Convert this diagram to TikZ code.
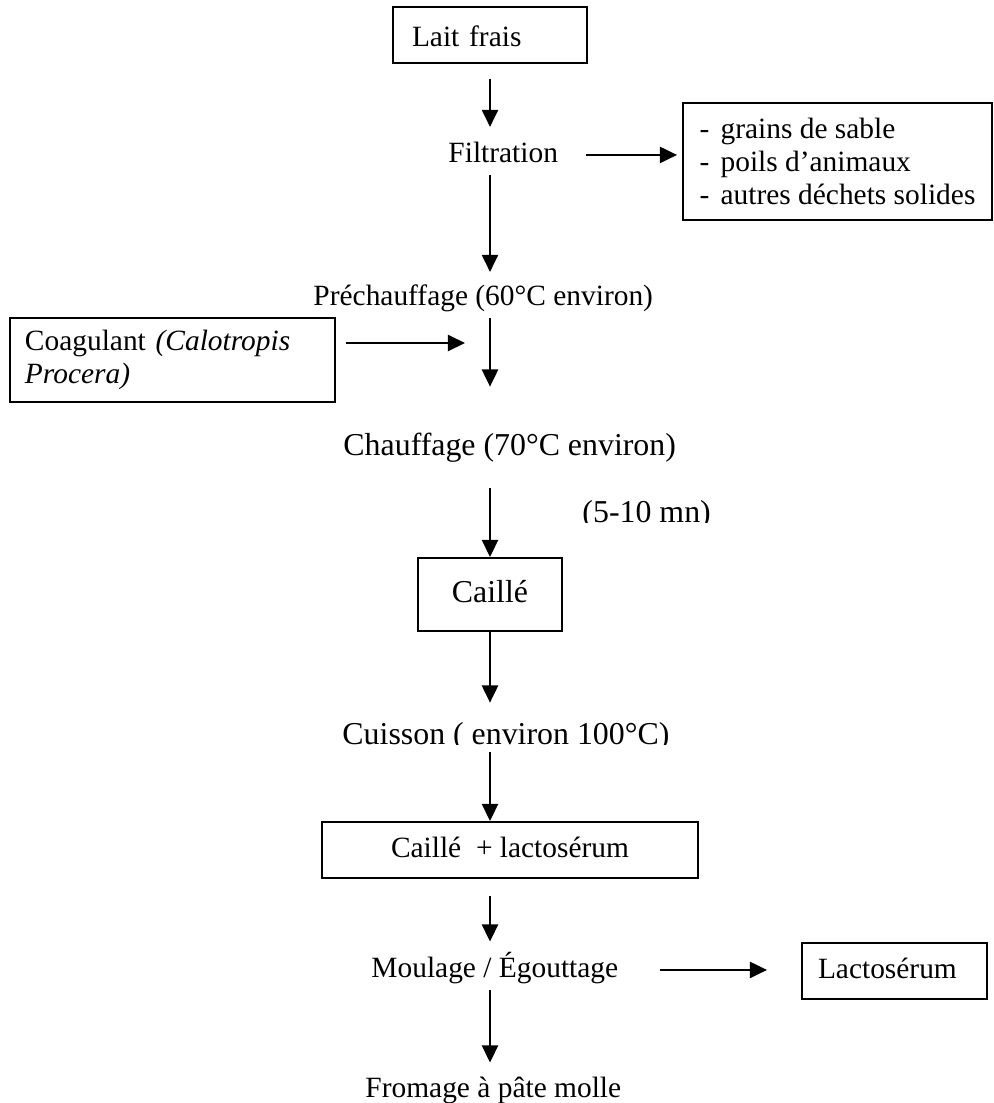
\documentclass[tikz,border=0pt]{standalone}
\usepackage{fontspec}
\setmainfont{Liberation Serif}
\usetikzlibrary{arrows.meta}
\newlength\pxu
\setlength\pxu{0.408pt}
\newcommand\smallfont{\fontsize{12}{13.5}\selectfont}
\newcommand\bigfont{\fontsize{13}{15}\selectfont}
\newcommand\tiret{\makebox[21\pxu][l]{-}}
\tikzset{
  stage/.style={inner sep=0pt,font=\smallfont,text height=8.4pt,text depth=2.64pt,anchor=base west},
  stagebig/.style={stage,font=\bigfont,text height=9.1pt,text depth=2.86pt},
  box/.style={draw,line width=.8pt,inner sep=0pt,font=\smallfont},
  onebox/.style={box,text height=8.4pt,text depth=2.64pt},
  flow/.style={-{Triangle[length=7pt,width=6.6pt]},line width=.8pt}
}

\begin{document}
\begin{tikzpicture}[x=0.408pt,y=-0.408pt]
  \useasboundingbox (0,0) rectangle (994,1103);
  \coordinate (axe) at (490,0);
  \node[onebox,text height=9.6pt,text depth=0pt,minimum width=194\pxu,minimum height=56\pxu,text width=156\pxu,align=left] (lait) at (490,35) {Lait frais};
  \node[stage] (filt) at (448,162) {Filtration};
  \node[box,minimum width=309\pxu,minimum height=117\pxu,align=left] (dechets) at (837.5,161.5) {\tiret grains de sable\\ \tiret poils d’animaux\\ \tiret autres déchets solides};
  \node[stage] (prech) at (313,305) {Préchauffage (60°C environ)};
  \node[box,minimum width=325\pxu,minimum height=84\pxu,text width=295\pxu,align=left] (coag) at (172.5,360) {Coagulant \textit{(Calotropis}\\ \textit{Procera)}};
  \coordinate (ajout) at (465,343);
  \node[stagebig] (chauf) at (343,455) {Chauffage (70°C environ)};
  \begin{scope}
    \clip (560,480) rectangle (730,522.5);
    \node[stagebig] (duree) at (582,522) {(5-10 mn)};
  \end{scope}
  \node[onebox,font=\bigfont,text height=9.1pt,text depth=2.86pt,minimum width=144\pxu,minimum height=73\pxu] (caille) at (490,594.5) {Caillé};
  \begin{scope}
    \clip (320,700) rectangle (700,744.5);
    \node[stagebig] (cuis) at (342,744) {Cuisson ( environ 100°C)};
  \end{scope}
  \node[onebox,minimum width=376\pxu,minimum height=56\pxu] (cwhey) at (510,850) {Caillé~ + lactosérum};
  \node[stage] (moul) at (371,977) {Moulage / Égouttage};
  \node[onebox,minimum width=185\pxu,minimum height=56\pxu,text width=153\pxu,align=left] (serum) at (894.5,971) {Lactosérum};
  \node[stage] (fromage) at (365,1097) {Fromage à pâte molle};

  \draw[flow,shorten <=15\pxu,shorten >=14\pxu] (lait.south) -- (lait.south |- filt.north);
  \draw[flow,shorten <=28\pxu,shorten >=5\pxu] (filt.east) -- (filt.east -| dechets.west);
  \draw[flow,shorten <=6.5\pxu,shorten >=12\pxu] (axe |- filt.south) -- (axe |- prech.north);
  \draw[flow,shorten <=10\pxu] (coag.east |- ajout) -- (ajout);
  \draw[flow,shorten <=6.5\pxu,shorten >=45.6\pxu] (axe |- prech.south) -- (axe |- chauf.north);
  \draw[flow,shorten <=25\pxu] (axe |- chauf.south) -- (caille.north);
  \draw[flow,shorten >=18.6\pxu] (caille.south) -- (axe |- cuis.north);
  \draw[flow] (axe |- cuis.south) -- (axe |- cwhey.north);
  \draw[flow,shorten <=17\pxu,shorten >=14.4\pxu] (axe |- cwhey.south) -- (axe |- moul.north);
  \draw[flow,shorten <=41\pxu,shorten >=34\pxu] (moul.east) -- (moul.east -| serum.west);
  \draw[flow,shorten <=6.5\pxu,shorten >=13.4\pxu] (axe |- moul.south) -- (axe |- fromage.north);
\end{tikzpicture}
\end{document}
